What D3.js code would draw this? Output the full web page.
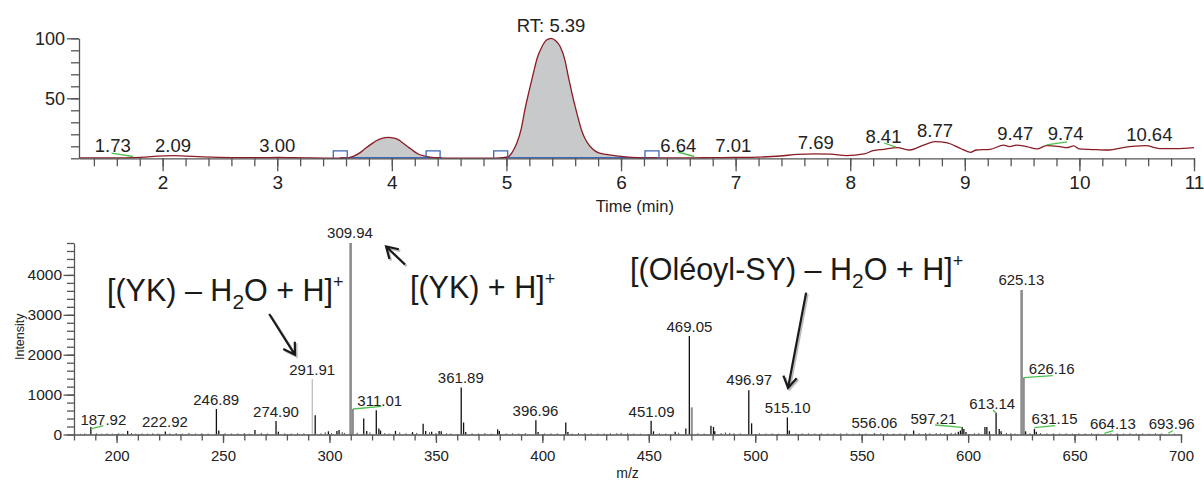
<!DOCTYPE html>
<meta charset="utf-8">
<style>
  body { margin: 0; background: #fff; }
  svg { font-family: "Liberation Sans", Arial, sans-serif; }
  .axis path, .axis line { stroke: #555; stroke-width: 1.3; }
  .axis text { fill: #222; font-family: "Liberation Sans", Arial, sans-serif; }
</style>
<svg width="1204" height="481"></svg>
<script src="https://d3js.org/d3.v7.min.js"></script>
<script>
  // chromatogram: [time (min), relative abundance %]
  const rtTrace = [[1.27,0.3],[1.45,0.3],[1.6,0.4],[1.75,0.6],[1.85,1.0],[1.95,1.8],[2.09,2.2],[2.2,1.8],[2.35,1.2],
    [2.5,0.8],[2.7,0.6],[2.85,0.5],[3.0,0.7],[3.15,0.5],[3.3,0.3],[3.5,0.2],[3.6,0.4],[3.65,1.2],[3.72,4.5],
    [3.77,8.3],[3.82,11.8],[3.86,14.4],[3.92,16.8],[3.97,17.5],[4.02,16.8],[4.06,15.3],[4.1,12.5],[4.15,8.9],
    [4.19,6.0],[4.23,3.6],[4.29,1.8],[4.35,0.8],[4.42,0.4],[4.5,0.2],[4.7,0.1],[4.9,0.2],[4.97,0.5],[5.017,1.4],
    [5.05,5],[5.09,12.5],[5.13,25],[5.16,40],[5.2,57],[5.235,71],[5.27,84],[5.31,93],[5.35,98.5],[5.39,100],
    [5.43,98],[5.47,93],[5.51,82],[5.54,68],[5.57,55],[5.6,43],[5.63,32],[5.655,23.6],[5.68,17.5],[5.71,12.5],
    [5.75,8],[5.8,4.7],[5.87,3.2],[5.945,2.2],[6.02,1.4],[6.09,0.8],[6.2,0.4],[6.35,0.3],[6.5,0.3],[6.64,0.4],
    [6.8,0.5],[7.0,0.7],[7.2,1.0],[7.39,1.9],[7.54,3.3],[7.69,3.7],[7.83,3.4],[7.97,2.2],[8.12,3.6],[8.2,6.4],
    [8.29,7.5],[8.41,8.9],[8.52,6.9],[8.64,11],[8.74,13.9],[8.84,13],[8.96,8.3],[9.05,5],[9.1,6.9],[9.22,7.5],
    [9.34,11],[9.39,9.7],[9.45,11],[9.54,9.7],[9.63,7.8],[9.71,10.5],[9.83,9.7],[9.89,8.9],[9.95,10.3],[10.0,7.8],
    [10.15,7.2],[10.26,6.9],[10.38,8.9],[10.58,10.5],[10.7,8.1],[10.84,8.1],[11.0,8.9]];
  const rtWindows = [[3.58, 4.40], [4.98, 6.28]];
  const rtBrackets = [3.55, 4.36, 4.95, 6.27];
  // label text, time, abundance of the text baseline
  const rtLabels = [["1.73",1.565,5.5],["2.09",2.09,5.3],["3.00",3.0,5.3],["RT: 5.39",5.39,105],["6.64",6.5,5.5],
    ["7.01",6.98,5.3],["7.69",7.70,7.5],["8.41",8.29,13],["8.77",8.74,18],["9.47",9.44,15.3],["9.74",9.88,15.3],
    ["10.64",10.61,14.7]];
  const rtLeaders = [[1.554,4.4,1.742,1.5],[6.496,5.25,6.64,1.5],[8.296,12.75,8.40,9.4],[9.713,11.1,9.893,13.6]];
  const rtXTicks = [2,3,4,5,6,7,8,9,10,11];
  const rtYTicks = [50,100];

  // mass spectrum: [m/z, intensity]
  const msPeaks = [[187.92,190],[205.2,90],[222.92,75],[246.89,640],[248.0,100],[265.0,110],[274.9,340],[276.0,70],
    [291.91,1390],[293.3,485],[299.5,80],[303.5,90],[304.5,110],[309.94,4800],[311.01,640],[316.1,400],[317.5,90],
    [322.0,610],[323.2,150],[324.0,100],[331.0,90],[339,60],[344.0,270],[345.2,90],[348,70],[351.5,90],[352.5,80],
    [361.89,1180],[363.0,300],[364,60],[379.0,130],[379.8,90],[396.96,360],[398,60],[411.0,300],[412,60],
    [451.09,345],[452.2,80],[462.4,70],[467.4,150],[469.05,2470],[470.2,680],[479.2,220],[480.4,190],[481,80],
    [496.97,1110],[498.3,280],[515.10,430],[516.0,100],[556.06,30],[574.4,100],[595.4,70],[596.4,100],[597.21,190],
    [598.0,140],[599,60],[607.9,190],[608.8,190],[610,80],[613.14,545],[614.6,140],[615.5,80],[625.13,3620],
    [626.16,1430],[627,80],[631.15,140],[632,70]];
  const msNoise = [[183,18],[185,25],[190.5,30],[193,20],[195.5,28],[198,22],[201,30],[203,25],[207,35],[209,20],
    [212,28],[214.5,22],[217,30],[219.5,25],[225,28],[228,35],[231,22],[234,40],[237,25],[240,30],[243,22],[251,30],
    [254,25],[257,28],[260,35],[262.5,22],[268,40],[271,25],[279,30],[282,25],[285,35],[288,28],[296,30],[298,55],
    [301,35],[306,60],[307,40],[313,45],[319,50],[326,35],[328,25],[333,50],[336,30],[341,40],[347,55],[350,40],
    [355,30],[357,25],[367,30],[370,25],[373,35],[376,22],[383,28],[386,30],[389,25],[392,35],[401,25],[404,30],
    [407,28],[414,22],[417,35],[420,30],[423,25],[426,22],[429,28],[432,30],[435,35],[437,40],[440,30],[443,25],
    [446,22],[455,30],[458,25],[464,45],[473,30],[476,25],[484,35],[486,50],[488,40],[490,30],[493,28],[502,30],
    [505,25],[508,28],[511,22],[519,25],[522,30],[525,28],[528,25],[531,30],[534,22],[537,28],[540,25],[543,30],
    [546,22],[549,25],[552,28],[559,30],[562,25],[565,22],[568,28],[571,25],[577,30],[580,35],[582,30],[585,35],
    [587,28],[589,30],[592,40],[594,45],[603,30],[605,35],[618,40],[620,30],[622,25],[629,30],[634,35],[637,30],
    [640,28],[643,25],[646,30],[649,22],[652,28],[655,25],[658,30],[661,22],[667,25],[670,28],[673,22],[676,30],
    [679,25],[682,28],[685,22],[688,30],[691,25],[697,22]];
  const msGray = [291.91, 309.94, 311.01, 470.2, 625.13, 626.16];
  // label text, m/z, intensity of the text baseline
  const msLabels = [["187.92",193.8,238],["222.92",222.7,196],["246.89",246.8,739],["274.90",274.9,431],
    ["291.91",291.9,1491],["309.94",309.65,4918],["311.01",323.6,714],["361.89",361.7,1298],["396.96",396.8,464],
    ["451.09",451.3,446],["469.05",469.1,2577],["496.97",497.2,1241],["515.10",515.2,546],["556.06",556.0,155],
    ["597.21",583.7,263],["613.14",611.3,632],["625.13",625.0,3747],["626.16",639.3,1509],["631.15",640.6,263],
    ["664.13",668.0,138],["693.96",695.6,138]];
  const msLeaders = [[188.0,138,193.8,221],[311.06,639,324.5,707],[584.5,238,597.0,180],[611.7,614,613.1,539],
    [626.1,1424,639.7,1474],[631.1,170,640.8,221],[664.0,30,668.2,95],[694.0,30,696.1,95]];
  const msXTicks = [200,250,300,350,400,450,500,550,600,650,700];
  const msYTicks = [0,1000,2000,3000,4000];

  var svg = d3.select("svg");

  var xT = d3.scaleLinear().domain([1.27, 11]).range([79, 1194]);
  var yT = d3.scaleLinear().domain([0, 100]).range([158.3, 38.3]);
  var xB = d3.scaleLinear().domain([180, 700]).range([74, 1181]);
  var yB = d3.scaleLinear().domain([0, 4800]).range([434.5, 243]);

  //
  // Chromatogram
  //
  var defs = svg.append("defs");
  rtWindows.forEach((w, i) => {
    defs.append("clipPath").attr("id", "win" + i)
      .append("rect")
      .attr("x", xT(w[0])).attr("width", xT(w[1]) - xT(w[0]))
      .attr("y", 0).attr("height", yT(0));
  });

  var area = d3.area()
    .x(d => xT(d[0])).y0(yT(0)).y1(d => yT(d[1]))
    .curve(d3.curveMonotoneX);
  var line = d3.line()
    .x(d => xT(d[0])).y(d => yT(d[1]))
    .curve(d3.curveMonotoneX);

  rtWindows.forEach((w, i) => {
    svg.append("path").datum(rtTrace)
      .attr("clip-path", "url(#win" + i + ")")
      .attr("fill", "#c8c9cb")
      .attr("d", area);
    svg.append("line")
      .attr("x1", xT(w[0]) - 4).attr("x2", xT(w[1]) + 4)
      .attr("y1", yT(0.5)).attr("y2", yT(0.5))
      .attr("stroke", "#3d66b5").attr("stroke-width", 1.6);
  });

  svg.append("path").datum(rtTrace)
    .attr("fill", "none")
    .attr("stroke", "#8a1c24")
    .attr("stroke-width", 1.3)
    .attr("d", line);

  svg.append("g").selectAll("path")
    .data(rtBrackets)
    .enter().append("path")
    .attr("fill", "none")
    .attr("stroke", "#3d66b5")
    .attr("stroke-width", 1.3)
    .attr("d", d => `M${xT(d) - 7},${yT(0)} V${yT(0) - 7.5} H${xT(d) + 7} V${yT(0)}`);

  svg.append("g").selectAll("line")
    .data(rtLeaders)
    .enter().append("line")
    .attr("x1", d => xT(d[0])).attr("y1", d => yT(d[1]))
    .attr("x2", d => xT(d[2])).attr("y2", d => yT(d[3]))
    .attr("stroke", "#4cc24c").attr("stroke-width", 1.3);

  svg.append("g").selectAll("text")
    .data(rtLabels)
    .enter().append("text")
    .attr("x", d => xT(d[1])).attr("y", d => yT(d[2]))
    .attr("text-anchor", "middle")
    .attr("font-size", 18.5)
    .attr("fill", "#222")
    .text(d => d[0]);

  // axes
  var rtMinor = d3.range(7, 56).map(i => i / 5);
  svg.append("g").attr("class", "axis")
    .attr("transform", `translate(0,${yT(0)})`)
    .call(d3.axisBottom(xT).tickValues(rtMinor).tickSize(8).tickSizeOuter(0).tickFormat(""));
  svg.append("g").attr("class", "axis")
    .attr("transform", `translate(0,${yT(0)})`)
    .call(d3.axisBottom(xT).tickValues(rtXTicks).tickSize(13).tickPadding(4).tickSizeOuter(0))
    .call(g => g.select(".domain").remove())
    .selectAll("text").attr("font-size", 19);

  svg.append("g").attr("class", "axis")
    .attr("transform", `translate(${xT(1.27)},0)`)
    .call(d3.axisLeft(yT).tickValues(d3.range(0, 101, 10)).tickSize(8).tickSizeOuter(0).tickFormat(""));
  svg.append("g").attr("class", "axis")
    .attr("transform", `translate(${xT(1.27)},0)`)
    .call(d3.axisLeft(yT).tickValues(rtYTicks).tickSize(12).tickPadding(2).tickSizeOuter(0))
    .call(g => g.select(".domain").remove())
    .selectAll("text").attr("font-size", 18);

  svg.append("text")
    .attr("x", xT(6.12)).attr("y", 212)
    .attr("text-anchor", "middle")
    .attr("font-size", 16.5)
    .attr("fill", "#222")
    .text("Time (min)");

  //
  // Mass spectrum
  //
  svg.append("g").selectAll("line")
    .data(msNoise)
    .enter().append("line")
    .attr("x1", d => xB(d[0])).attr("x2", d => xB(d[0]))
    .attr("y1", yB(0)).attr("y2", d => yB(d[1]))
    .attr("stroke", "#333").attr("stroke-width", 0.9);

  svg.append("g").selectAll("line")
    .data(msPeaks)
    .enter().append("line")
    .attr("x1", d => xB(d[0])).attr("x2", d => xB(d[0]))
    .attr("y1", yB(0)).attr("y2", d => yB(d[1]))
    .attr("stroke", d => msGray.includes(d[0]) ? (d[0] === 291.91 ? "#aaa" : "#8c8c8c") : "#111")
    .attr("stroke-width", d => {
      if (!msGray.includes(d[0])) return 1.3;
      if (d[0] === 291.91) return 1;
      if (d[0] === 309.94 || d[0] === 625.13) return 2.6;
      return 2;
    });

  svg.append("g").selectAll("line")
    .data(msLeaders)
    .enter().append("line")
    .attr("x1", d => xB(d[0])).attr("y1", d => yB(d[1]))
    .attr("x2", d => xB(d[2])).attr("y2", d => yB(d[3]))
    .attr("stroke", "#4cc24c").attr("stroke-width", 1.3);

  svg.append("g").selectAll("text")
    .data(msLabels)
    .enter().append("text")
    .attr("x", d => xB(d[1])).attr("y", d => yB(d[2]))
    .attr("text-anchor", "middle")
    .attr("font-size", 15)
    .attr("fill", "#222")
    .text(d => d[0]);

  var msMinor = d3.range(18, 71).map(i => i * 10);
  svg.append("g").attr("class", "axis")
    .attr("transform", `translate(0,${yB(0)})`)
    .call(d3.axisBottom(xB).tickValues(msMinor).tickSize(6).tickSizeOuter(0).tickFormat(""));
  svg.append("g").attr("class", "axis")
    .attr("transform", `translate(0,${yB(0)})`)
    .call(d3.axisBottom(xB).tickValues(msXTicks).tickSize(8.5).tickPadding(7).tickSizeOuter(0))
    .call(g => g.select(".domain").remove())
    .selectAll("text").attr("font-size", 15);

  svg.append("g").attr("class", "axis")
    .attr("transform", `translate(${xB(180)},0)`)
    .call(d3.axisLeft(yB).tickValues(d3.range(0, 4801, 200)).tickSize(7).tickSizeOuter(0).tickFormat(""));
  svg.append("g").attr("class", "axis")
    .attr("transform", `translate(${xB(180)},0)`)
    .call(d3.axisLeft(yB).tickValues(msYTicks).tickSize(10.5).tickPadding(1.5).tickSizeOuter(0).tickFormat(d3.format("d")))
    .call(g => g.select(".domain").remove())
    .selectAll("text").attr("font-size", 15.5);

  svg.append("text")
    .attr("transform", `translate(24,${yB(2450)}) rotate(-90)`)
    .attr("text-anchor", "middle")
    .attr("font-size", 12.5)
    .attr("fill", "#222")
    .text("Intensity");

  svg.append("text")
    .attr("x", xB(440)).attr("y", 478)
    .attr("text-anchor", "middle")
    .attr("font-size", 14)
    .attr("fill", "#222")
    .text("m/z");

  // ion annotations: [m/z, intensity] of text start, with text parts
  function annotate(mz, inten, parts) {
    var t = svg.append("text")
      .attr("x", xB(mz)).attr("y", yB(inten))
      .attr("font-size", 30.5)
      .attr("fill", "#1a1a1a");
    var shift = 0;
    parts.forEach(p => {
      var s = t.append("tspan").text(p[0]);
      var target = p[1] === "sub" ? 8 : p[1] === "sup" ? -13 : 0;
      if (p[1]) s.attr("font-size", p[1] === "sub" ? 21 : 18);
      if (target !== shift) { s.attr("dy", target - shift); shift = target; }
    });
  }
  annotate(195.5, 3337, [["[(YK) – H"], ["2", "sub"], ["O + H]"], ["+", "sup"]]);
  annotate(337.8, 3423, [["[(YK) + H]"], ["+", "sup"]]);
  annotate(441.2, 3883, [["[(Oléoyl-SY) – H"], ["2", "sub"], ["O + H]"], ["+", "sup"]]);

  // arrows: tail -> tip in [m/z, intensity]
  const arrows = [[[271.7, 3021], [283.8, 1998]], [[335.5, 4260], [326.6, 4712]], [[523.9, 3557], [515.4, 1169]]];
  function arrowPath(a) {
    var x0 = xB(a[0][0]), y0 = yB(a[0][1]), x1 = xB(a[1][0]), y1 = yB(a[1][1]);
    var ang = Math.atan2(y1 - y0, x1 - x0), L = 13, sp = 0.55;
    var h1 = [x1 - L * Math.cos(ang - sp), y1 - L * Math.sin(ang - sp)];
    var h2 = [x1 - L * Math.cos(ang + sp), y1 - L * Math.sin(ang + sp)];
    return `M${x0},${y0} L${x1},${y1} M${h1[0]},${h1[1]} L${x1},${y1} L${h2[0]},${h2[1]}`;
  }
  svg.append("g").selectAll("path.shadow")
    .data(arrows).enter().append("path")
    .attr("transform", "translate(1.5,1.5)")
    .attr("fill", "none").attr("stroke", "#bbb").attr("stroke-width", 2.4)
    .attr("d", arrowPath);
  svg.append("g").selectAll("path.arrow")
    .data(arrows).enter().append("path")
    .attr("fill", "none").attr("stroke", "#1a1a1a").attr("stroke-width", 2.2)
    .attr("stroke-linejoin", "miter")
    .attr("d", arrowPath);
</script>
